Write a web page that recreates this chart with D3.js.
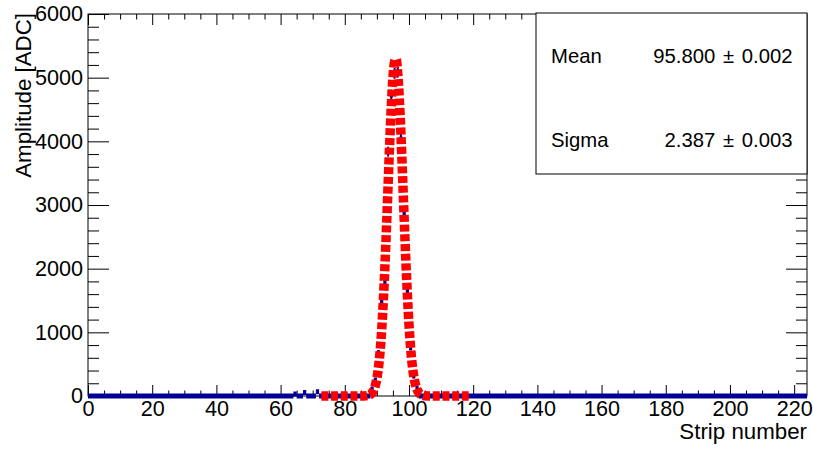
<!DOCTYPE html>
<html>
<head>
<meta charset="utf-8">
<script src="https://cdn.jsdelivr.net/npm/d3@7"></script>
<style>
  html, body { margin: 0; padding: 0; background: #fff; }
  svg { display: block; font-family: "Liberation Sans", Arial, Helvetica, sans-serif; }
  .sval { white-space: pre; }
</style>
</head>
<body>
<svg id="chart" width="813" height="449"></svg>
<script>
// ---- data ----
const nStrips = 224;                       // x axis spans strips 0..224, bin width 1
const peakStrips = [64, 67, 71, 88, 89, 90, 91, 92, 93, 94, 95, 96, 97, 98, 99, 100, 101, 102];
const peakCounts = [30, 55, 65, 110, 251, 681, 1481, 1780, 3838, 4728, 5070, 5090, 4037, 2854, 1649, 759, 314, 121];
// fitted Gaussian curve (red dashed)
const fitX = [72.7, 85, 86, 86.5, 87, 87.5, 88, 88.5, 89, 89.5, 90, 90.5, 91, 91.5, 92, 92.5, 93, 93.5, 94, 94.5, 95, 95.5, 96, 96.5, 97, 97.5, 98, 98.5, 99, 99.5, 100, 100.5, 101, 101.5, 102, 102.5, 103, 103.5, 104, 104.5, 105, 106, 118.6];
const fitY = [0, 0, 1, 3, 6, 12, 25, 49, 91, 162, 276, 450, 700, 1044, 1490, 2034, 2659, 3326, 3981, 4561, 5001, 5248, 5290, 5067, 4662, 4105, 3460, 2790, 2153, 1591, 1125, 761, 493, 306, 181, 103, 56, 29, 15, 7, 3, 1, 0];
const xMajor = [0, 20, 40, 60, 80, 100, 120, 140, 160, 180, 200, 220];
const yMajor = [0, 1000, 2000, 3000, 4000, 5000, 6000];
const statNames = ["Mean", "Sigma"];
const statCentral = ["95.800", "2.387"];
const statErrors = ["0.002", "0.003"];
const xTitle = "Strip number";
const yTitle = "Amplitude [ADC]";

// ---- build bins ----
const counts = new Array(nStrips).fill(0);
peakStrips.forEach((s, i) => { counts[s] = peakCounts[i]; });
const bins = counts.map((c, i) => ({ lo: i, hi: i + 1, v: c }));

// ---- layout ----
const svg = d3.select("#chart");
const L = 88, R = 807, T = 14, B = 396;
const x = d3.scaleLinear().domain([0, nStrips]).range([L, R]);
const y = d3.scaleLinear().domain([0, 6000]).range([B, T]);
const FS = 21.6;
const TFS = 22.3;

const xMinor = d3.range(0, nStrips + 0.001, 5).filter(v => v % 20 !== 0);
const yMinor = d3.range(0, 6001, 200).filter(v => v % 1000 !== 0);

// frame
svg.append("rect").attr("x", L).attr("y", T).attr("width", R - L).attr("height", B - T)
  .attr("fill", "#fff").attr("stroke", "#000").attr("stroke-width", 1);

function styleAxis(g) {
  g.select(".domain").remove();
  g.selectAll(".tick line").attr("stroke", "#000").attr("stroke-width", 1);
  g.selectAll("text").attr("font-size", FS).attr("fill", "#000")
    .attr("font-family", '"Liberation Sans", Arial, Helvetica, sans-serif');
}

// bottom axis
svg.append("g").attr("transform", `translate(0,${B})`)
  .call(d3.axisBottom(x).tickValues(xMajor).tickSize(-11).tickPadding(4.5).tickFormat(d3.format("d")))
  .call(styleAxis);
svg.append("g").attr("transform", `translate(0,${B})`)
  .call(d3.axisBottom(x).tickValues(xMinor).tickSize(-5.5).tickFormat(""))
  .call(styleAxis);
// top axis
svg.append("g").attr("transform", `translate(0,${T})`)
  .call(d3.axisTop(x).tickValues(xMajor).tickSize(-11).tickFormat(""))
  .call(styleAxis);
svg.append("g").attr("transform", `translate(0,${T})`)
  .call(d3.axisTop(x).tickValues(xMinor).tickSize(-5.5).tickFormat(""))
  .call(styleAxis);
// left axis
svg.append("g").attr("transform", `translate(${L},0)`)
  .call(d3.axisLeft(y).tickValues(yMajor).tickSize(-21).tickPadding(5).tickFormat(d3.format("d")))
  .call(styleAxis);
svg.append("g").attr("transform", `translate(${L},0)`)
  .call(d3.axisLeft(y).tickValues(yMinor).tickSize(-11).tickFormat(""))
  .call(styleAxis);
// right axis
svg.append("g").attr("transform", `translate(${R},0)`)
  .call(d3.axisRight(y).tickValues(yMajor).tickSize(-21).tickFormat(""))
  .call(styleAxis);
svg.append("g").attr("transform", `translate(${R},0)`)
  .call(d3.axisRight(y).tickValues(yMinor).tickSize(-11).tickFormat(""))
  .call(styleAxis);

// data: horizontal bin bars (one continuous path) + vertical error bars
const blue = "#000099";
const barPath = bins.map(d => `M${x(d.lo)},${y(d.v)}H${x(d.hi)}`).join("");
svg.append("path").attr("d", barPath).attr("fill", "none")
  .attr("stroke", blue).attr("stroke-width", 5);
svg.selectAll("line.ebar").data(bins.filter(d => d.v > 0)).join("line").attr("class", "ebar")
  .attr("x1", d => x(d.lo + 0.5)).attr("x2", d => x(d.lo + 0.5))
  .attr("y1", d => y(d.v + Math.sqrt(d.v)) - 1).attr("y2", d => y(d.v - Math.sqrt(d.v)) + 1)
  .attr("stroke", blue).attr("stroke-width", 2);

// fit curve
const line = d3.line().x((d, i) => x(fitX[i])).y(d => y(d)).curve(d3.curveMonotoneX);
svg.append("path").datum(fitY).attr("d", line)
  .attr("fill", "none").attr("stroke", "#ff0000").attr("stroke-width", 9.5)
  .attr("stroke-dasharray", "7,2.7");

// stats box
const bx = 536, by = 13, bw = 271, bh = 161;
svg.append("rect").attr("x", bx).attr("y", by).attr("width", bw).attr("height", bh)
  .attr("fill", "#fff").attr("stroke", "#000").attr("stroke-width", 1);
const rowsY = [62.5, 146.5];
const SFS = 20.3;
svg.selectAll("text.sname").data(statNames).join("text").attr("class", "sname")
  .attr("x", 551).attr("y", (d, i) => rowsY[i]).attr("font-size", SFS).text(d => d);
const sval = svg.selectAll("text.sval").data(statCentral).join("text").attr("class", "sval")
  .attr("x", 792.5).attr("y", (d, i) => rowsY[i]).attr("text-anchor", "end")
  .attr("font-size", SFS);
sval.append("tspan").text(d => d + " ");
sval.append("tspan").attr("dx", 2).text("\u00b1 ");
sval.append("tspan").attr("dx", 2).text((d, i) => statErrors[i]);

// axis titles
svg.append("text").attr("x", R).attr("y", 439).attr("text-anchor", "end")
  .attr("font-size", TFS).text(xTitle);
svg.append("text").attr("transform", `translate(31,13) rotate(-90)`).attr("text-anchor", "end")
  .attr("font-size", TFS).text(yTitle);
</script>
</body>
</html>
